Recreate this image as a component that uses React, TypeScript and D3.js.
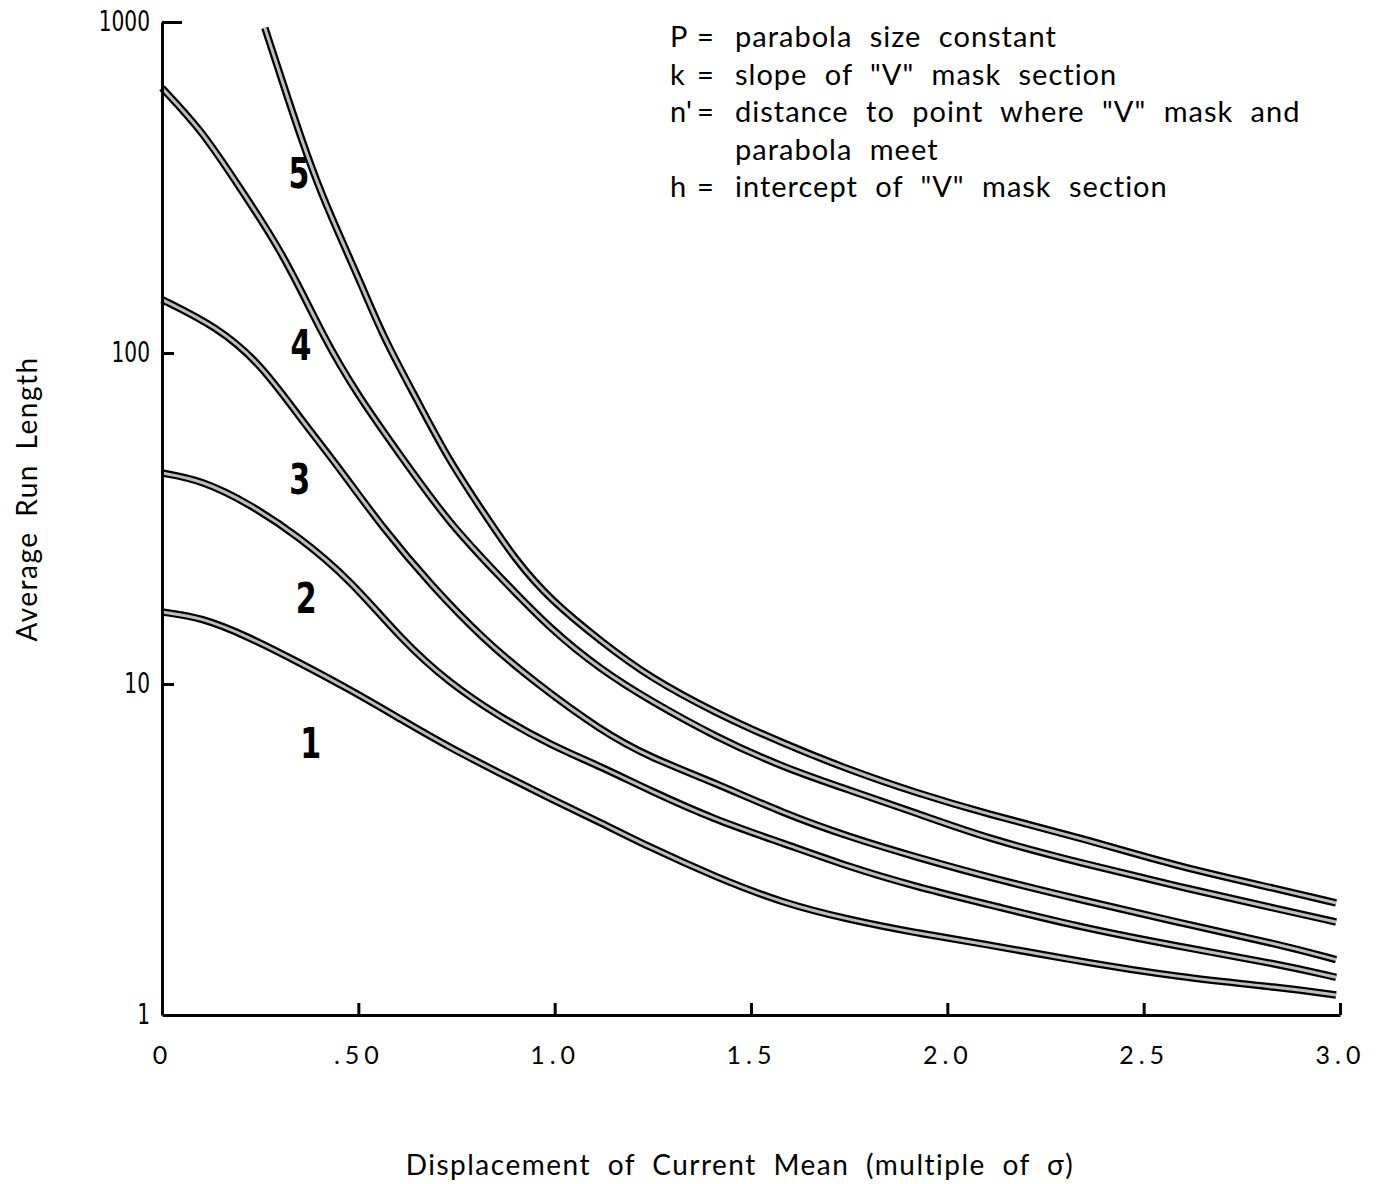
import { useEffect, useRef } from 'react';
import * as d3 from 'd3';

// Average run length vs displacement, five mask settings

const xTickValues = [0, 0.5, 1.0, 1.5, 2.0, 2.5, 3.0];
const xTickLabels = ['0', '.50', '1.0', '1.5', '2.0', '2.5', '3.0'];
const yTickValues = [1, 10, 100, 1000];
const yTickLabels = ['1', '10', '100', '1000'];

const curve1 = [[0, 16.5], [0.1, 15.9], [0.22, 13.9], [0.35, 11.6], [0.48, 9.6], [0.61, 7.8], [0.73, 6.45], [0.86, 5.38], [0.99, 4.5], [1.12, 3.8], [1.24, 3.22], [1.41, 2.61], [1.58, 2.18], [1.75, 1.94], [1.92, 1.77], [2.08, 1.65], [2.34, 1.45], [2.59, 1.3], [2.85, 1.21], [2.99, 1.15]];
const curve2 = [[0, 43.4], [0.1, 41.3], [0.22, 35.2], [0.35, 27.8], [0.48, 20.6], [0.61, 13.6], [0.73, 10.1], [0.86, 7.95], [0.99, 6.54], [1.12, 5.61], [1.24, 4.78], [1.41, 3.88], [1.58, 3.31], [1.75, 2.8], [1.92, 2.44], [2.13, 2.12], [2.34, 1.84], [2.59, 1.61], [2.85, 1.42], [2.99, 1.3]];
const curve3 = [[0, 145], [0.14, 120], [0.25, 93], [0.35, 64], [0.45, 45.2], [0.56, 29.8], [0.69, 19.6], [0.82, 13.6], [0.95, 10.1], [1.12, 7.2], [1.24, 6.02], [1.41, 5.02], [1.58, 4.08], [1.75, 3.45], [1.92, 3.0], [2.13, 2.56], [2.34, 2.23], [2.59, 1.9], [2.85, 1.63], [2.99, 1.47]];
const curve4 = [[0, 632], [0.1, 472], [0.18, 340], [0.31, 200], [0.41, 112], [0.5, 74], [0.61, 48.5], [0.73, 30.7], [0.86, 21.1], [0.99, 14.6], [1.12, 11.0], [1.24, 8.95], [1.41, 6.92], [1.58, 5.61], [1.75, 4.78], [1.92, 4.08], [2.1, 3.42], [2.34, 2.88], [2.59, 2.44], [2.85, 2.08], [2.99, 1.91]];
const curve5 = [[0.262, 960], [0.344, 482], [0.395, 326], [0.446, 235], [0.504, 165], [0.563, 112], [0.65, 72], [0.73, 47.5], [0.82, 32.8], [0.9, 23.7], [0.99, 17.9], [1.12, 13.4], [1.24, 10.5], [1.41, 8.17], [1.58, 6.63], [1.75, 5.5], [1.92, 4.69], [2.1, 4.05], [2.34, 3.43], [2.59, 2.8], [2.85, 2.39], [2.99, 2.18]];

const curves = [curve1, curve2, curve3, curve4, curve5];
const curveNames = ['1', '2', '3', '4', '5'];
// where each number sits, in data units
const curveLabelPos = [[0.379, 6.64], [0.367, 18.3], [0.351, 41.9], [0.354, 106], [0.349, 352]];

const legendSymbols = ['P', 'k', "n'", '', 'h'];
const legendTexts = [
    'parabola size constant',
    'slope of "V" mask section',
    'distance to point where "V" mask and',
    'parabola meet',
    'intercept of "V" mask section',
];

const xTitle = 'Displacement of Current Mean (multiple of σ)';
const yTitle = 'Average Run Length';

export default function App() {
    const svgRef = useRef<SVGSVGElement>(null);

    useEffect(() => {
        const svg = d3.select(svgRef.current);
        svg.selectAll('*').remove();

        const x = d3.scaleLinear().domain([0, 3]).range([162, 1340]);
        const y = d3.scaleLog().domain([1, 1000]).range([1015, 22]);

        const textFont = "'Lato', 'Open Sans', sans-serif";
        const numFont = "'DejaVu Sans', sans-serif";

        // Curves: black outline with a light core

        const line = d3.line<number[]>()
            .x(d => x(d[0]))
            .y(d => y(d[1]))
            .curve(d3.curveBasis);

        const curveGroup = svg.append('g');
        curves.forEach(c => {
            curveGroup.append('path')
                .datum(c)
                .attr('fill', 'none')
                .attr('stroke', '#000')
                .attr('stroke-width', 7.5)
                .attr('d', line);
            curveGroup.append('path')
                .datum(c)
                .attr('fill', 'none')
                .attr('stroke', '#bdbdbd')
                .attr('stroke-width', 3)
                .attr('d', line);
        });

        // Curve numbers (condensed bold)
        curveNames.forEach((name, i) => {
            svg.append('text')
                .attr('transform', `translate(${x(curveLabelPos[i][0])},${y(curveLabelPos[i][1])}) scale(0.7,1)`)
                .attr('dy', '0.36em')
                .attr('text-anchor', 'middle')
                .attr('font-family', numFont)
                .attr('font-weight', 'bold')
                .attr('font-size', 43)
                .text(name);
        });

        // Y axis

        const yAxis = d3.axisLeft(y)
            .tickValues(yTickValues)
            .tickFormat((d, i) => yTickLabels[i])
            .tickSize(-12)
            .tickSizeOuter(0)
            .tickPadding(12);

        const yg = svg.append('g')
            .attr('transform', `translate(${x(0)},0)`)
            .call(yAxis);
        yg.select('.domain').attr('stroke-width', 3);
        yg.selectAll('.tick line').attr('stroke-width', 3);
        yg.selectAll('.tick')
            .filter(d => d === 1000)
            .select('line')
            .attr('x2', 20);
        yg.selectAll('.tick')
            .filter(d => d === 1)
            .select('line')
            .remove();
        yg.selectAll('.tick text')
            .attr('font-family', numFont)
            .attr('font-size', 28)
            .attr('x', -12 / 0.72)
            .attr('transform', 'scale(0.72,1)')
            .attr('fill', '#000');

        // X axis

        const xAxis = d3.axisBottom(x)
            .tickValues(xTickValues)
            .tickFormat((d, i) => xTickLabels[i])
            .tickSize(-12)
            .tickSizeOuter(0)
            .tickPadding(31);

        const xg = svg.append('g')
            .attr('transform', `translate(0,${y(1)})`)
            .call(xAxis);
        xg.select('.domain').attr('stroke-width', 3);
        xg.selectAll('.tick line').attr('stroke-width', 3);
        xg.selectAll('.tick')
            .filter(d => d === 0)
            .select('line')
            .remove();
        xg.selectAll('.tick text')
            .attr('font-family', textFont)
            .attr('font-size', 25)
            .attr('letter-spacing', 5)
            .attr('fill', '#000');

        // Axis titles

        svg.append('text')
            .attr('x', 740)
            .attr('y', 1175)
            .attr('text-anchor', 'middle')
            .attr('font-family', textFont)
            .attr('font-size', 28)
            .attr('letter-spacing', 1.5)
            .attr('word-spacing', 8)
            .text(xTitle);

        svg.append('text')
            .attr('transform', 'translate(37,499) rotate(-90)')
            .attr('text-anchor', 'middle')
            .attr('font-family', textFont)
            .attr('font-size', 28)
            .attr('letter-spacing', 1.5)
            .attr('word-spacing', 6)
            .text(yTitle);

        // Legend block, top right

        const legend = svg.append('g')
            .attr('font-family', textFont)
            .attr('font-size', 29);
        legendTexts.forEach((t, i) => {
            const ly = 47 + i * 37.5;
            if (legendSymbols[i]) {
                legend.append('text')
                    .attr('x', 670)
                    .attr('y', ly)
                    .text(legendSymbols[i]);
                legend.append('text')
                    .attr('x', 697)
                    .attr('y', ly)
                    .text('=');
            }
            legend.append('text')
                .attr('x', 735)
                .attr('y', ly)
                .attr('letter-spacing', 1)
                .attr('word-spacing', 9)
                .text(t);
        });

    }, []);

    return (
        <svg
            ref={svgRef}
            width={1383}
            height={1184}
            style={{ position: 'absolute', left: 0, top: 0, background: '#fff' }}
        ></svg>
    );
}
